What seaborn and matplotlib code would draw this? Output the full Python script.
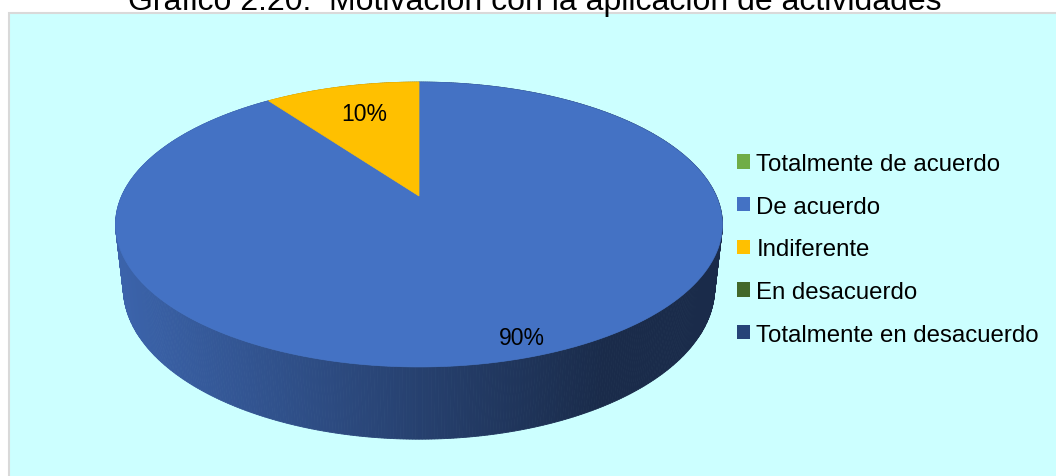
import numpy as np
import matplotlib
matplotlib.use("Agg")
import matplotlib.pyplot as plt
from matplotlib.patches import Patch, Rectangle
from matplotlib.colors import to_rgb
import seaborn as sns

# datos del grafico
categorias = ["Totalmente de acuerdo", "De acuerdo", "Indiferente",
              "En desacuerdo", "Totalmente en desacuerdo"]
porcentajes = [0, 90, 10, 0, 0]
colores = ["#70AD47", "#4472C4", "#FFC000", "#43682B", "#264478"]
titulo = "Gráfico 2.20:  Motivación con la aplicación de actividades"

sns.set_style("white")
plt.rcParams['font.family'] = ['Liberation Sans', 'DejaVu Sans']
plt.rcParams['text.color'] = 'black'

# geometria del pastel 3D (en pixeles de la figura)
CX, CY = 419, 197          # centro del circulo superior
F, D = 1320, 4.44          # focal y distancia de la camara
S, C = 0.46, 0.888         # seno / coseno de la elevacion
H = 0.242                  # altura del cilindro
LABEL_R = {"De acuerdo": 0.9, "Indiferente": 0.72}


def proyectar(u, v, z):
    Y = v * S + z * C
    Z = D + v * C - z * S
    return CX + F * u / Z, CY - F * Y / Z


def sombra(x):
    # mas claro a la izquierda, oscuro a la derecha
    k = np.clip((x - 115) / (600 - 115), 0, 1)
    return 0.88 - 0.50 * k


fig = plt.figure(figsize=(10.56, 4.77), dpi=100)
fig.patch.set_facecolor("white")
ax = fig.add_axes([0, 0, 1, 1])
ax.set_xlim(0, 1056)
ax.set_ylim(477, 0)
ax.axis("off")

ax.add_patch(Rectangle((8.5, 13.5), 1060, 470, facecolor="#CCFFFF",
                       edgecolor="#D9D9D9", linewidth=1.5, zorder=0))

total = sum(porcentajes)
fin = 90 - np.cumsum(porcentajes) / total * 360
ini = np.concatenate([[90], fin[:-1]])


def color_en(t):
    # que sector contiene el angulo t (grados)
    for i in range(len(porcentajes)):
        if porcentajes[i] == 0:
            continue
        a, b = fin[i], ini[i]
        tt = (t - a) % 360
        if tt <= (b - a):
            return colores[i]
    return colores[1]


# lado del cilindro
ts = np.linspace(0, 360, 721)
for t0, t1 in zip(ts[:-1], ts[1:]):
    r0, r1 = np.radians(t0), np.radians(t1)
    pts = [proyectar(np.cos(r0), np.sin(r0), 0), proyectar(np.cos(r1), np.sin(r1), 0),
           proyectar(np.cos(r1), np.sin(r1), -H), proyectar(np.cos(r0), np.sin(r0), -H)]
    xs = [p[0] for p in pts]
    ys = [p[1] for p in pts]
    base = np.array(to_rgb(color_en((t0 + t1) / 2)))
    col = tuple(base * sombra(np.mean(xs)))
    ax.fill(xs, ys, color=col, edgecolor=col, linewidth=0.6, zorder=1)

# cara superior
for i, val in enumerate(porcentajes):
    if val == 0:
        continue
    arco = np.radians(np.linspace(ini[i], fin[i], 200))
    xs, ys = proyectar(np.cos(arco), np.sin(arco), 0)
    cx, cy = proyectar(0, 0, 0)
    ax.fill(np.r_[cx, xs], np.r_[cy, ys], color=colores[i],
            edgecolor=colores[i], linewidth=0.5, zorder=2)
    mid = np.radians((ini[i] + fin[i]) / 2)
    r = LABEL_R.get(categorias[i], 0.8)
    lx, ly = proyectar(r * np.cos(mid), r * np.sin(mid), 0)
    ax.text(lx + 3, ly, "%d%%" % round(val / total * 100), ha="center", va="center",
            fontsize=16.5, color="black", zorder=3)

handles = [Patch(facecolor=c, edgecolor="none", label=l) for l, c in zip(categorias, colores)]
fig.legend(handles=handles, loc="upper left", bbox_to_anchor=(737 / 1056, 1 - 154 / 477),
           frameon=False, fontsize=17.3, handlelength=0.55, handleheight=0.55,
           handletextpad=0.26, labelspacing=0.86, borderpad=0, borderaxespad=0,
           labelcolor="black")

fig.text(535 / 1056, 1 - 10 / 477, titulo, ha="center", va="baseline", fontsize=23,
         color="black")

fig.savefig("out.png", dpi=100)
